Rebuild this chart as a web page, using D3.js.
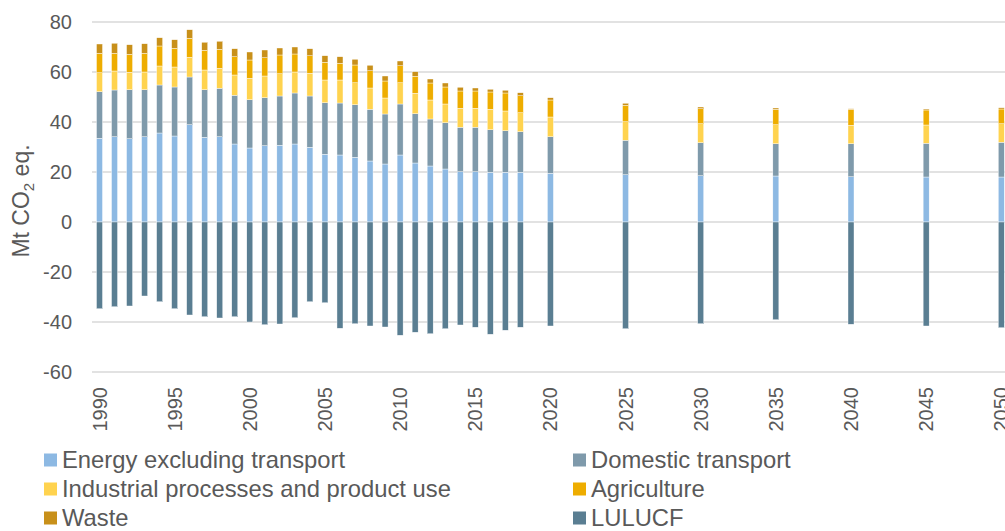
<!DOCTYPE html>
<html>
<head>
<meta charset="utf-8">
<script src="https://cdn.jsdelivr.net/npm/d3@7"></script>
<style>
  body { margin: 0; background: #fff; }
  text { font-family: "Liberation Sans", Arial, sans-serif; fill: #595959; }
</style>
</head>
<body>
<svg id="chart" width="1005" height="531"></svg>
<script>
// values, Mt CO2 eq.
const years = [1990, 1991, 1992, 1993, 1994, 1995, 1996, 1997, 1998, 1999,
  2000, 2001, 2002, 2003, 2004, 2005, 2006, 2007, 2008, 2009,
  2010, 2011, 2012, 2013, 2014, 2015, 2016, 2017, 2018,
  2020, 2025, 2030, 2035, 2040, 2045, 2050];
const energy = [33.5, 34.1, 33.3, 34.1, 35.6, 34.4, 38.9, 33.9, 34.1, 31.2,
  29.6, 30.5, 30.7, 31.2, 29.9, 27.1, 26.8, 25.9, 24.4, 23.2,
  26.8, 23.6, 22.4, 21.2, 20.1, 20.1, 19.9, 19.9, 19.9,
  19.5, 18.9, 18.5, 18.4, 18.1, 18.0, 18.0];
const transport = [18.6, 18.7, 19.6, 18.8, 19.2, 19.6, 19.1, 19.0, 19.4, 19.5,
  19.3, 19.2, 19.7, 20.4, 20.5, 20.6, 20.8, 21.0, 20.7, 20.0,
  20.4, 19.7, 18.8, 18.5, 17.8, 17.8, 17.0, 16.6, 16.2,
  14.6, 13.8, 13.2, 12.9, 13.2, 13.5, 13.9];
const industry = [7.6, 7.6, 7.0, 7.1, 7.6, 8.0, 7.9, 7.9, 8.0, 8.1,
  8.6, 8.7, 8.9, 8.4, 9.1, 9.1, 9.2, 8.8, 8.5, 6.4,
  8.5, 8.2, 7.6, 7.5, 7.6, 7.6, 8.2, 7.9, 7.6,
  7.9, 7.4, 7.6, 7.6, 7.4, 7.3, 7.4];
const agriculture = [7.8, 7.1, 7.2, 7.5, 8.0, 7.5, 7.6, 7.9, 7.6, 7.3,
  7.3, 7.3, 7.5, 7.2, 7.0, 7.1, 6.7, 7.1, 6.9, 6.8,
  6.8, 6.8, 6.8, 6.8, 6.9, 6.9, 6.9, 7.2, 6.8,
  6.8, 6.6, 6.0, 6.2, 6.4, 6.0, 5.9];
const waste = [3.7, 4.0, 3.8, 3.8, 3.3, 3.4, 3.4, 3.2, 3.2, 3.2,
  3.2, 3.1, 2.8, 2.8, 2.8, 2.6, 2.6, 2.3, 2.2, 2.0,
  1.9, 1.8, 1.6, 1.6, 1.5, 1.2, 1.1, 1.1, 1.2,
  0.9, 0.8, 0.7, 0.5, 0.2, 0.4, 0.5];
const lulucf = [-34.7, -33.9, -33.6, -29.6, -31.9, -34.7, -37.2, -37.9, -38.4, -37.9,
  -40.0, -41.1, -40.8, -38.3, -31.9, -32.3, -42.5, -40.7, -41.6, -42.0,
  -45.3, -44.1, -44.7, -42.7, -41.2, -42.1, -44.9, -43.3, -42.1,
  -41.6, -42.7, -40.7, -39.1, -40.9, -41.6, -42.3];

const seriesNames = ["Energy excluding transport", "Domestic transport",
  "Industrial processes and product use", "Agriculture", "Waste", "LULUCF"];
const seriesColors = ["#8db9e3", "#7f9aab", "#ffd34f", "#eead00", "#c8901a", "#5a7e92"];
const yTicks = [-60, -40, -20, 0, 20, 40, 60, 80];
const xLabels = [1990, 1995, 2000, 2005, 2010, 2015, 2020, 2025, 2030, 2035, 2040, 2045, 2050];

const cols = [energy, transport, industry, agriculture, waste, lulucf];
const table = years.map((yr, i) => {
  let row = { year: yr };
  seriesNames.forEach((n, k) => { row[n] = cols[k][i]; });
  return row;
});

const svg = d3.select("#chart");
const x = d3.scaleLinear().domain([1990, 2050]).range([99.5, 1001.3]);
const y = d3.scaleLinear().domain([-60, 80]).range([372, 22]);
const barW = 6;

// gridlines
svg.append("g").selectAll("line").data(yTicks).join("line")
  .attr("x1", 92).attr("x2", 1005)
  .attr("y1", d => y(d)).attr("y2", d => y(d))
  .attr("stroke", "#d9d9d9").attr("stroke-width", 1.5);

// y axis labels (plain hyphen minus like the original)
const yAxis = d3.axisLeft(y).tickValues(yTicks).tickSize(0).tickPadding(0)
  .tickFormat(d => String(d));
svg.append("g").attr("transform", "translate(72,0)").call(yAxis)
  .call(g => g.select(".domain").remove())
  .selectAll("text").style("font-size", "20px").attr("fill", "#595959")
  .style("font-family", "Liberation Sans, Arial, sans-serif");

// stacked bars
const stack = d3.stack().keys(seriesNames).offset(d3.stackOffsetDiverging);
const layers = stack(table);
svg.append("g").selectAll("g").data(layers).join("g")
  .attr("fill", (d, i) => seriesColors[i])
  .selectAll("rect").data(d => d).join("rect")
  .attr("x", d => x(d.data.year) - barW / 2)
  .attr("width", barW)
  .attr("y", d => y(Math.max(d[0], d[1])))
  .attr("height", d => Math.abs(y(d[0]) - y(d[1])))
  .attr("stroke", "#fff").attr("stroke-width", 0.4);

// x labels, rotated
svg.append("g").selectAll("text").data(xLabels).join("text")
  .attr("transform", d => `translate(${x(d)},387) rotate(-90)`)
  .attr("text-anchor", "end").attr("dy", "0.35em")
  .style("font-size", "20px")
  .text(d => d);

// axis title
const title = svg.append("text")
  .attr("transform", "translate(29,201) rotate(-90)")
  .attr("text-anchor", "middle").style("font-size", "23px");
title.append("tspan").text("Mt CO");
title.append("tspan").attr("font-size", "15px").attr("dy", 5).text("2");
title.append("tspan").attr("dy", -5).text(" eq.");

// legend
const legendPos = [[44, 460], [573, 460], [44, 489], [573, 489], [44, 518], [573, 518]];
const lg = svg.append("g").selectAll("g").data(seriesNames).join("g")
  .attr("transform", (d, i) => `translate(${legendPos[i][0]},${legendPos[i][1]})`);
lg.append("rect").attr("x", 0).attr("y", -6.5).attr("width", 13).attr("height", 13)
  .attr("fill", (d, i) => seriesColors[i]);
lg.append("text").attr("x", 18).attr("y", 7.5).style("font-size", "23.8px").text(d => d);
</script>
</body>
</html>
